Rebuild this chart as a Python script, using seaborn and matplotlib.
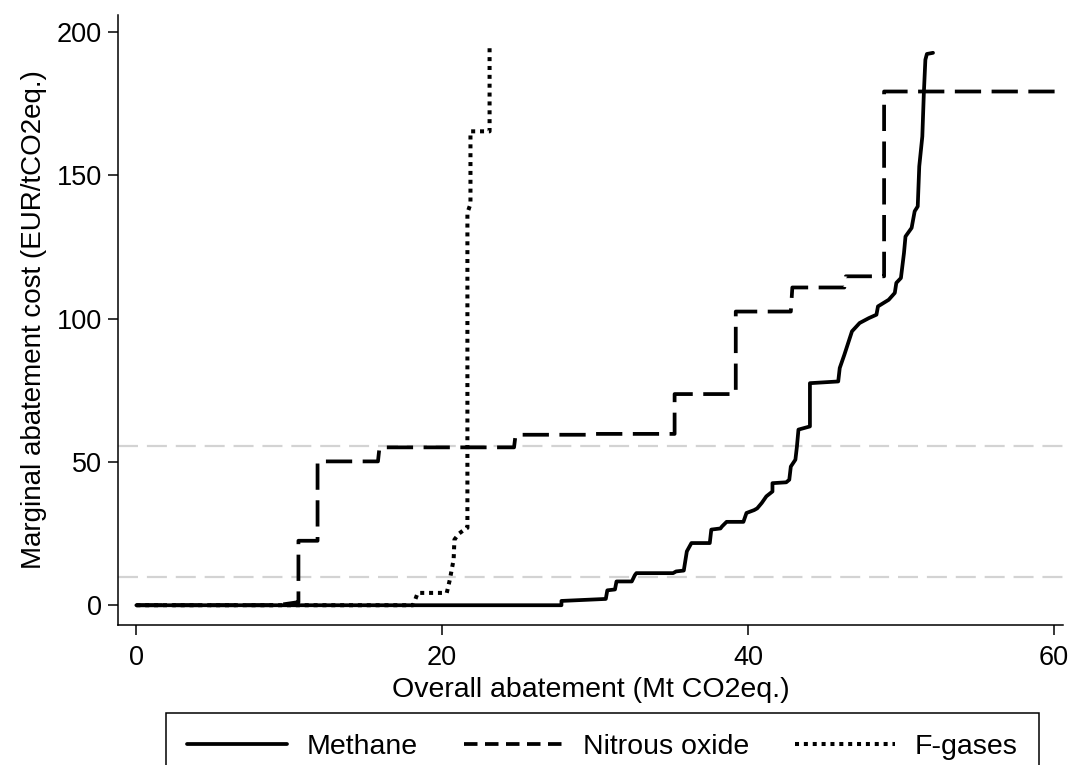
import numpy as np
import pandas as pd
import matplotlib
matplotlib.use("Agg")
import matplotlib.pyplot as plt
from matplotlib.lines import Line2D
import seaborn as sns

# ---- data ----
methane_x = [0, 27.8, 27.8, 30.7, 30.8, 31.3, 31.4, 32.4, 32.6, 32.7, 35.1, 35.3, 35.8,
             36.0, 36.3, 37.5, 37.6, 38.2, 38.3, 38.6, 39.7, 39.9, 40.4, 40.6, 40.9, 41.2,
             41.6, 41.6, 42.5, 42.7, 42.8, 43.1, 43.2, 43.3, 44.05, 44.05, 45.9, 46.0, 46.3,
             46.8, 47.3, 47.9, 48.4, 48.5, 49.2, 49.6, 49.7, 50.0, 50.2, 50.3, 50.7, 50.9,
             51.1, 51.2, 51.4, 51.5, 51.6, 51.7, 52.1]
methane_y = [0, 0, 1.5, 2.2, 5.2, 5.5, 8.3, 8.3, 10.5, 11.2, 11.2, 11.8, 12.1,
             18.8, 21.7, 21.7, 26.4, 26.8, 27.5, 29.1, 29.1, 32.2, 33.2, 33.8, 35.7, 38.0,
             39.7, 42.6, 42.9, 43.8, 48.4, 50.8, 55.4, 61.3, 62.4, 77.5, 78.1, 82.8, 87.4,
             95.6, 98.5, 100.2, 101.4, 104.3, 106.6, 109.0, 112.5, 114.2, 122.9, 128.7, 131.7, 137.5,
             139.2, 153.2, 163.6, 178.8, 190.4, 192.4, 192.8]

nitrous_x = [0, 9.2, 10.5, 10.6, 10.6, 11.85, 11.85, 15.8, 15.9, 24.7, 24.8, 29.7, 30.0,
             35.2, 35.2, 39.2, 39.2, 42.8, 42.9, 46.3, 46.4, 48.9, 48.9, 60.3]
nitrous_y = [0, 0, 1.0, 1.0, 22.5, 22.5, 50.2, 50.2, 55.1, 55.1, 59.5, 59.5, 59.8,
             59.8, 73.7, 73.7, 102.5, 102.5, 110.9, 110.9, 114.8, 114.8, 179.3, 179.3]

fgas_x = [0, 18.1, 18.4, 20.3, 20.5, 20.75, 20.8, 21.1, 21.6, 21.65, 21.65, 21.85, 21.85, 23.1, 23.1]
fgas_y = [0, 0, 4.3, 4.3, 8.9, 16.0, 22.9, 25.0, 27.0, 27.0, 137.0, 140.0, 165.4, 165.4, 194.5]

ref_levels = [10, 55.7]

series_names = ["Methane", "Nitrous oxide", "F-gases"]
x_ticks = [0, 20, 40, 60]
y_ticks = [0, 50, 100, 150, 200]

# ---- style ----
sns.set_style("ticks")
plt.rcParams["font.family"] = ["Liberation Sans", "DejaVu Sans"]
plt.rcParams["text.color"] = "black"
plt.rcParams["axes.labelcolor"] = "black"
plt.rcParams["xtick.color"] = "black"
plt.rcParams["ytick.color"] = "black"

fig = plt.figure(figsize=(10.75, 7.65), dpi=100)
ax = fig.add_axes([118 / 1075, 1 - 625 / 765, (1063 - 118) / 1075, (625 - 15) / 765])

for lv in ref_levels:
    ax.axhline(lv, color="#d3d3d3", lw=1.6, linestyle=(0, (9, 4)), zorder=1)

styles = {
    "Methane": dict(lw=2.7, linestyle="-"),
    "Nitrous oxide": dict(lw=2.7, linestyle=(0, (7, 2.8))),
    "F-gases": dict(lw=2.9, linestyle=(0, (1.0, 1.2))),
}
data = {
    "Methane": (methane_x, methane_y),
    "Nitrous oxide": (nitrous_x, nitrous_y),
    "F-gases": (fgas_x, fgas_y),
}
for name in series_names:
    xs, ys = data[name]
    df = pd.DataFrame({"x": xs, "y": ys})
    sns.lineplot(data=df, x="x", y="y", sort=False, estimator=None, color="black",
                 ax=ax, zorder=3, **styles[name])

ax.set_xlim(-1.2, 60.6)
ax.set_ylim(-6.9, 206)
ax.set_xticks(x_ticks)
ax.set_yticks(y_ticks)
ax.set_xticklabels([str(t) for t in x_ticks])
ax.set_yticklabels([str(t) for t in y_ticks])

for s in ["top", "right"]:
    ax.spines[s].set_visible(False)
for s in ["left", "bottom"]:
    ax.spines[s].set_linewidth(1.1)
    ax.spines[s].set_color("black")

ax.tick_params(axis="both", direction="out", length=7.5, width=1.1, colors="black",
               labelsize=19.5)
ax.tick_params(axis="y", pad=4)
ax.tick_params(axis="x", pad=7)

ax.set_xlabel("Overall abatement (Mt CO2eq.)", fontsize=20.5, labelpad=4)
ax.set_ylabel("Marginal abatement cost (EUR/tCO2eq.)", fontsize=20, labelpad=7)

handles = [
    Line2D([], [], color="black", lw=2.7, linestyle="-"),
    Line2D([], [], color="black", lw=2.7, linestyle=(0, (3.6, 2.0))),
    Line2D([], [], color="black", lw=2.9, linestyle=(0, (1.0, 1.2))),
]
leg = fig.legend(handles, series_names, loc="upper center",
                 bbox_to_anchor=(602.5 / 1075, 1 - 713 / 765),
                 ncol=3, fontsize=20.5, frameon=True, fancybox=False,
                 edgecolor="black", framealpha=1, borderaxespad=0,
                 handlelength=3.5, handletextpad=0.7, columnspacing=1.6,
                 borderpad=0.75)
leg.get_frame().set_linewidth(1.1)

fig.savefig("out.png", dpi=100)
